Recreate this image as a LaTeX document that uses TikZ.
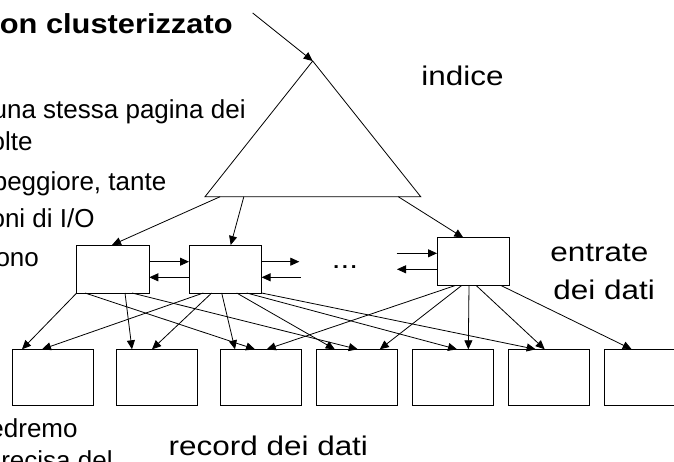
\documentclass[tikz,border=0pt]{standalone}
\usepackage{fontspec}
\setmainfont{Liberation Sans}
\newfontfamily\widefont[FakeStretch=1.165]{Liberation Sans}
\newfontfamily\titlefont[FakeStretch=1.12]{Liberation Sans}
\usepackage{tikz}
\usetikzlibrary{arrows.meta,calc,positioning}
\tikzset{>={Triangle[length=9pt,width=8pt]},
	entry/.style={% pages of data entries
		draw, rectangle,
		minimum width=72.6pt,
		minimum height=48pt,
		inner sep=0pt,
		outer sep=0pt,
		line width=0.9pt
	},
	record/.style={% pages of data records
		draw, rectangle,
		minimum width=81pt,
		minimum height=56.4pt,
		inner sep=0pt,
		outer sep=0pt,
		line width=0.9pt
	},
	txt/.style={
		inner sep=0pt,
		font=\widefont\fontsize{27}{32}\selectfont
	},
	side/.style={
		inner sep=0pt,
		anchor=base east,
		font=\fontsize{26}{31}\selectfont
	}
}
\begin{document}
\begin{tikzpicture}[x=1pt,y=-1pt,line width=0.8pt]
                        \useasboundingbox (0,0) rectangle (674,461);
                        \clip (0,0) rectangle (674,461);
                        % text on the left, cut by the slide
                        \node [side, font=\titlefont\bfseries\fontsize{27.5}{32}\selectfont] (title) at (233,33.3) {on clusterizzato};
                        \node [side] (t1) at (246,118.3) {una stessa pagina dei};
                        \node [side] (t2) at (33,150) {olte};
                        \node [side] (t3) at (166.7,190) {peggiore, tante};
                        \node [side] (t4) at (95,227.7) {oni di I/O};
                        \node [side] (t5) at (39.3,266) {ono};
                        \node [side] (t6) at (78,437) {edremo};
                        \node [side] (t7) at (113,469) {recisa del};
                        % labels
                        \node [txt, anchor=base west] (idx) at (421,85) {indice};
                        \node [txt, anchor=base west] (ent1) at (550,261) {entrate};
                        \node [txt, anchor=base west] (ent2) at (553,299.3) {dei dati};
                        \node [txt, anchor=base west] (rec) at (168.3,455) {record dei dati};
                        % index
                        \coordinate (top) at (312.7,61);
                        \coordinate (bl) at (205,196.7);
                        \coordinate (br) at (420.7,196.7);
                        \coordinate (in) at (252.7,13);
                        \draw (top) -- (bl) -- (br) -- cycle;
                        \draw [->] (in) -- (top);
                        % data entries
                        \node [entry] (ea) at (113,269) {};
                        \node [entry] (eb) at (225.3,269) {};
                        \node [entry] (ec) at (473.3,261.7) {};
                        % data records
                        \node [record] (r1) at (52.8,377.5) {};
                        \node [record] (r2) at (157.2,377.5) {};
                        \node [record] (r3) at (261.2,377.5) {};
                        \node [record] (r4) at (357,377.5) {};
                        \node [record] (r5) at (452.8,377.5) {};
                        \node [record] (r6) at (549.2,377.5) {};
                        \node [record] (r7) at (644.8,377.5) {};
                        % index -> entries
                        \draw [->] ($(bl)!0.07!(br)$) -- ([xshift=-1pt]ea.north);
                        \draw [->] ($(bl)!0.18!(br)$) -- ([xshift=5.4pt]eb.north);
                        \draw [->] ($(bl)!0.896!(br)$) -- ([xshift=-10pt]ec.north);
                        % links between entries
                        \coordinate (bo) at (299.3,261.7);
                        \coordinate (bi) at (300.7,277.3);
                        \coordinate (ci) at (396.7,253.3);
                        \coordinate (co) at (397,269.3);
                        \draw [->] ([yshift=7.3pt]ea.east) -- ([yshift=7.3pt]eb.west);
                        \draw [->] ([yshift=-8.3pt]eb.west) -- ([yshift=-8.3pt]ea.east);
                        \draw [->] ([yshift=7.3pt]eb.east) -- (bo);
                        \draw [->] (bi) -- ([yshift=-8.3pt]eb.east);
                        \node [txt] (dots) at (345,267) {...};
                        \draw [->] (ci) -- ([yshift=8.4pt]ec.west);
                        \draw [->] ([yshift=-7.6pt]ec.west) -- (co);
                        % entries -> records
                        \draw [->] (ea.south west) -- ([xshift=9.7pt]r1.north west);
                        \draw [->] ([xshift=8.3pt]ea.south west) -- ([xshift=34.3pt]r3.north west);
                        \draw [->] ([xshift=48.3pt]ea.south west) -- ([xshift=15.3pt]r2.north west);
                        \draw [->] ([xshift=55.3pt]ea.south west) -- ([xshift=41.3pt]r4.north west);
                        \draw [->] ([xshift=14.3pt]eb.south west) -- ([xshift=29.7pt]r1.north west);
                        \draw [->] ([xshift=22.7pt]eb.south west) -- ([xshift=35.3pt]r2.north west);
                        \draw [->] ([xshift=32.7pt]eb.south west) -- ([xshift=14.3pt]r3.north west);
                        \draw [->] ([xshift=47.7pt]eb.south west) -- ([xshift=18.3pt]r4.north west);
                        \draw [->] ([xshift=57.7pt]eb.south west) -- ([xshift=44.7pt]r5.north west);
                        \draw [->] (eb.south east) -- ([xshift=27pt]r6.north west);
                        \draw [->] ([xshift=17.7pt]ec.south west) -- ([xshift=46pt]r3.north west);
                        \draw [->] ([xshift=24.4pt]ec.south west) -- ([xshift=63.3pt]r4.north west);
                        \draw [->] ([xshift=32pt]ec.south west) -- ([xshift=56pt]r5.north west);
                        \draw [->] ([xshift=39.4pt]ec.south west) -- ([xshift=36pt]r6.north west);
                        \draw [->] ([xshift=64.4pt]ec.south west) -- ([xshift=27.4pt]r7.north west);
                \end{tikzpicture}
\end{document}
